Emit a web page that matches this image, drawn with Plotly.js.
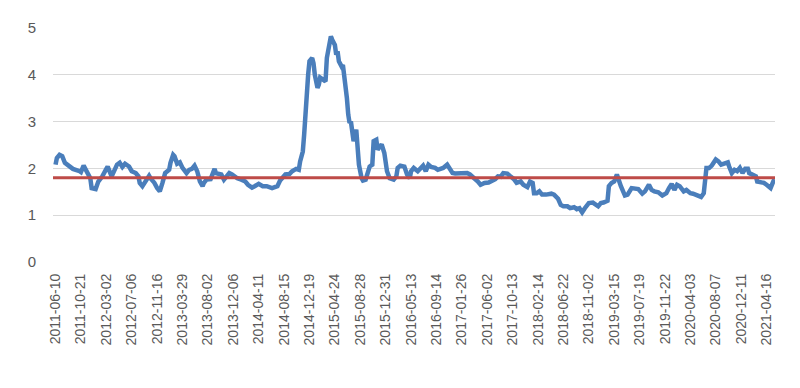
<!DOCTYPE html>
<html>
<head>
<meta charset="utf-8">
<script src="https://cdn.plot.ly/plotly-3.0.1.min.js"></script>
<style>html,body{margin:0;padding:0;background:#fff}#chart{width:800px;height:388px}</style>
</head>
<body>
<div id="chart"></div>
<script>
// Week index (position in the weekly series) and value
const weekIdx = [0,1,3,5,7,10,13,18,19,21,23,26,27,30,32,35,38,39,42,44,46,48,50,52,55,57,60,62,63,65,67,70,71,74,76,78,80,82,85,86,88,89,91,93,95,98,100,102,104,106,108,110,111,113,116,118,119,120,124,126,127,130,132,
136,139,142,144,147,149,152,155,158,162,166,168,170,172,175,177,180,182,183,185,186,187,188,189,190,192,193,194,196,197,198,200,202,203,204,206,207,209,210,211,212,214,215,216,218,219,220,221,222,223,225,226,227,229,230,232,234,235,237,238,240,241,242,244,246,247,248,250,253,255,256,258,261,263,265,266,268,
271,273,275,277,279,281,284,286,290,293,294,297,299,303,305,308,310,312,316,318,321,324,327,329,331,333,335,338,340,343,345,348,350,353,355,357,358,360,362,364,367,371,373,376,378,380,383,385,388,390,392,394,396,399,402,404,406,
408,410,413,414,416,418,420,421,423,426,428,431,434,436,439,441,444,446,448,451,454,457,459,461,463,465,467,470,472,475,477,480,483,485,486,487,489,491,494,496,498,501,503,504,506,508,510,512,514,516,518,519,522,524,525,528,530,532,535,537,538];
const values = [2.08,2.22,2.29,2.26,2.12,2.04,1.99,1.94,1.92,2.06,1.94,1.79,1.58,1.56,1.72,1.83,1.99,2.04,1.83,1.97,2.08,2.12,2.03,2.10,2.04,1.94,1.90,1.83,1.69,1.62,1.72,1.84,1.79,1.69,1.58,1.51,1.69,1.90,1.97,2.12,2.29,2.26,2.10,2.13,2.01,1.90,1.97,1.99,2.06,1.94,1.72,1.62,1.69,1.76,1.77,1.90,1.99,1.90,1.87,1.76,1.79,1.90,1.87,
1.79,1.76,1.72,1.65,1.59,1.62,1.67,1.62,1.62,1.58,1.62,1.74,1.79,1.87,1.88,1.94,1.99,1.97,2.15,2.36,2.72,3.29,3.68,4.00,4.29,4.36,4.25,4.00,3.72,3.79,3.94,3.90,3.86,4.36,4.50,4.82,4.75,4.64,4.43,4.50,4.29,4.18,4.21,4.00,3.50,3.15,2.97,3.00,2.79,2.58,2.83,2.51,2.08,1.79,1.74,1.76,1.94,2.04,2.08,2.58,2.61,2.40,2.44,2.51,2.33,2.15,1.94,1.79,1.76,1.83,2.01,2.06,2.04,1.87,1.79,1.94,2.01,
1.94,2.01,2.06,1.94,2.08,2.03,2.01,1.97,2.01,2.08,2.04,1.90,1.89,1.89,1.91,1.90,1.87,1.83,1.72,1.65,1.69,1.70,1.74,1.77,1.83,1.82,1.90,1.89,1.84,1.77,1.69,1.72,1.65,1.60,1.72,1.69,1.47,1.47,1.51,1.44,1.44,1.46,1.44,1.35,1.22,1.19,1.19,1.15,1.17,1.13,1.15,1.06,1.15,1.26,1.27,1.22,1.19,
1.26,1.27,1.31,1.62,1.69,1.72,1.87,1.77,1.62,1.42,1.44,1.58,1.58,1.56,1.46,1.51,1.65,1.54,1.51,1.49,1.42,1.47,1.58,1.67,1.54,1.65,1.62,1.51,1.54,1.47,1.46,1.42,1.39,1.47,1.69,2.01,2.01,2.06,2.19,2.15,2.08,2.10,2.13,2.04,1.90,1.97,1.94,2.01,1.90,1.99,1.99,1.90,1.87,1.83,1.72,1.70,1.69,1.65,1.58,1.72,1.77];
const meanValue = 1.8;
const tickLabels = ["2011-06-10","2011-10-21","2012-03-02","2012-07-06","2012-11-16","2013-03-29","2013-08-02","2013-12-06","2014-04-11","2014-08-15","2014-12-19","2015-04-24","2015-08-28","2015-12-31","2016-05-13","2016-09-14","2017-01-26","2017-06-02","2017-10-13","2018-02-14","2018-06-22","2018-11-02","2019-03-15","2019-07-19","2019-11-22","2020-04-03","2020-08-07","2020-12-11","2021-04-16"];
const labelStep = 19;

const tickVals = tickLabels.map((_, i) => i * labelStep);
const xFirst = -1.9, xLast = 538.3;

const traces = [
  {x: weekIdx, y: values, type: 'scatter', mode: 'lines',
   line: {color: '#4a7ebb', width: 4.5}, hoverinfo: 'skip'},
  {x: [xFirst, xLast], y: [meanValue, meanValue], type: 'scatter', mode: 'lines',
   line: {color: '#be4b48', width: 3}, hoverinfo: 'skip'}
];

const layout = {
  width: 800, height: 388,
  margin: {l: 53, r: 25, t: 28, b: 126},
  paper_bgcolor: '#fff', plot_bgcolor: '#fff',
  showlegend: false,
  font: {family: 'Liberation Sans, Arial, sans-serif', color: '#595959'},
  xaxis: {
    range: [xFirst, xLast], tickmode: 'array', tickvals: tickVals, ticktext: tickLabels,
    tickangle: -90, tickfont: {size: 14, color: '#595959'},
    showgrid: false, zeroline: false, showline: false, ticks: '', ticklabelstandoff: 8
  },
  yaxis: {
    range: [0, 5], tickvals: [0,1,2,3,4,5], tickfont: {size: 15, color: '#595959'},
    showgrid: true, gridcolor: '#d9d9d9', gridwidth: 1.3, zeroline: false, showline: false,
    ticks: '', ticklabelstandoff: 16
  }
};

Plotly.newPlot('chart', traces, layout, {staticPlot: true, displayModeBar: false});
</script>
</body>
</html>
